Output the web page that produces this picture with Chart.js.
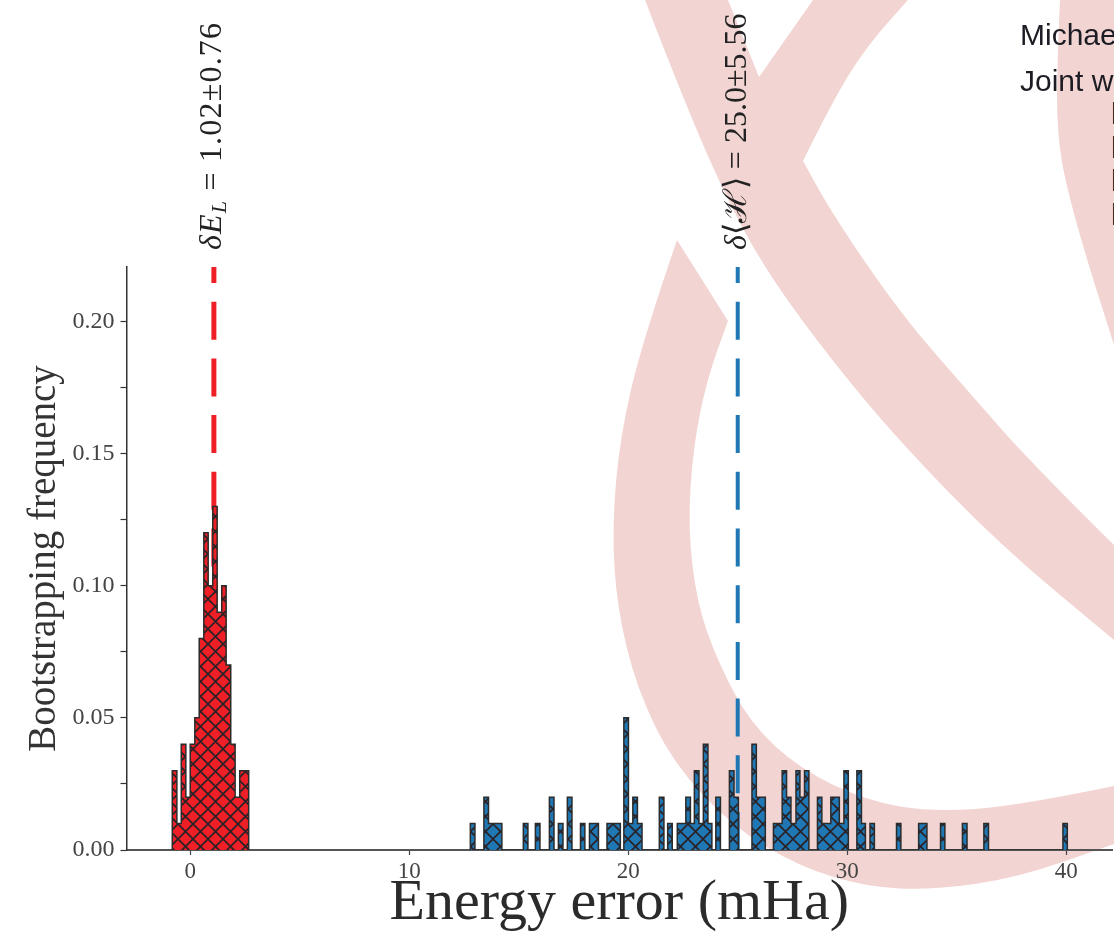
<!DOCTYPE html>
<html>
<head>
<meta charset="utf-8">
<title>Energy error</title>
<script src="https://cdn.jsdelivr.net/npm/chart.js@4"></script>
<style>
  html, body { margin: 0; padding: 0; background: #fff; }
  #page { position: relative; width: 1114px; height: 938px; overflow: hidden; }
  #plot { position: absolute; left: 0; top: 0; }
  .slide { position: absolute; font-family: "Liberation Sans", sans-serif; color: #1c1c24; white-space: nowrap; line-height: 1; }
</style>
</head>
<body>
<div id="page">
  <canvas id="plot" width="1114" height="938"></canvas>
  <div class="slide" style="left:1020px;top:20px;font-size:30px">Michael</div>
  <div class="slide" style="left:1020px;top:66px;font-size:30px">Joint w</div>
  <div class="slide" style="left:1110px;top:97px;font-size:32px;color:#4a2a1c">I</div>
  <div class="slide" style="left:1110px;top:131px;font-size:32px;color:#4a2a1c">I</div>
  <div class="slide" style="left:1110px;top:164px;font-size:32px;color:#4a2a1c">I</div>
  <div class="slide" style="left:1110px;top:198px;font-size:32px;color:#4a2a1c">I</div>
</div>
<script>
const RED = '#ee1f26';
const BLUE = '#1f77b4';
const INK = '#2b2b2b';
const PINK = '#f2d5d2';
const SERIF = '"Liberation Serif", serif';

const xTickValues = [0, 10, 20, 30, 40];
const yTickValues = [0, 0.025, 0.05, 0.075, 0.1, 0.125, 0.15, 0.175, 0.2];
const yLabelled = [0, 0.05, 0.1, 0.15, 0.2];

const redMean = 1.08;
const blueMean = 25.0;

// bin edges in mHa, one frequency per interval between two edges
const redEdges = [-0.82, -0.61, -0.41, -0.20, 0.00, 0.21, 0.41, 0.62, 0.82, 1.03, 1.23, 1.44, 1.64, 1.85, 2.05, 2.26, 2.46, 2.67];
const redFreq = [0.03, 0.01, 0.04, 0.02, 0.04, 0.05, 0.08, 0.12, 0.10, 0.13, 0.09, 0.10, 0.07, 0.04, 0.02, 0.03, 0.03];

const blueEdges = [
  12.79, 13.00, 13.41, 13.62, 14.23, 15.21, 15.42, 15.76, 15.97, 16.40,
  16.61, 16.81, 17.02, 17.22, 17.43, 17.82, 18.02, 18.23, 18.64, 19.03,
  19.64, 19.80, 20.01, 20.21, 20.42, 20.63, 21.42, 21.63, 21.80, 22.01,
  22.24, 22.63, 22.84, 23.02, 23.23, 23.43, 23.64, 23.82, 24.00, 24.21,
  24.62, 24.83, 25.03, 25.65, 25.85, 26.26, 26.63, 27.03, 27.23, 27.43,
  27.66, 27.84, 28.05, 28.25, 28.64, 28.84, 29.25, 29.64, 29.85, 30.05,
  30.44, 30.65, 30.83, 31.04, 31.24, 32.25, 32.45, 33.26, 33.64, 34.26,
  34.46, 35.26, 35.47, 36.24, 36.45, 39.85, 40.05,
];
const blueFreq = [
  0.01, 0, 0.02, 0.01, 0, 0.01, 0, 0.01, 0, 0.02,
  0, 0.01, 0, 0.02, 0, 0.01, 0, 0.01, 0, 0.01,
  0, 0.05, 0.01, 0.02, 0.01, 0, 0.02, 0, 0.01, 0,
  0.01, 0.02, 0.01, 0.03, 0.01, 0.04, 0.01, 0, 0.02, 0,
  0.03, 0.02, 0, 0.04, 0.02, 0, 0.01, 0.03, 0.02, 0.01,
  0.03, 0.02, 0.03, 0, 0.02, 0.01, 0.02, 0.01, 0.03, 0,
  0.03, 0.01, 0, 0.01, 0, 0.01, 0, 0.01, 0, 0.01,
  0, 0.01, 0, 0.01, 0, 0.01,
];

// logo behind the plot, traced in page pixels: each outline is a list of smoothed runs
const logoShapes = [
  [
    [[645, 0], [687, 109], [733, 212], [773, 281], [833, 362], [900, 442], [1000, 545], [1114, 640]],
    [[1114, 545], [1033, 465], [967, 390], [900, 313], [833, 215], [803, 161]],
    [[803, 161], [833, 100], [867, 46], [908, 0]],
    [[813, 0], [759, 77]],
    [[759, 77], [728, 0]],
  ],
  [
    [[677, 240], [643, 339], [620, 436], [612, 528], [617, 608], [637, 689], [673, 763], [733, 827], [800, 867], [867, 887], [933, 890], [1017, 878], [1114, 844]],
    [[1114, 786], [1017, 806], [933, 812], [867, 801], [800, 769], [750, 723], [717, 660], [697, 603], [688, 528], [693, 448], [707, 379], [728, 321]],
  ],
  [
    [[1060, 0], [1056, 87], [1059, 150], [1070, 200], [1087, 260], [1114, 345]],
    [[1114, 0]],
  ],
];

function smoothTo(ctx, pts) {
  ctx.lineTo(pts[0][0], pts[0][1]);
  for (let i = 1; i < pts.length - 1; i++) {
    const mx = (pts[i][0] + pts[i + 1][0]) / 2;
    const my = (pts[i][1] + pts[i + 1][1]) / 2;
    ctx.quadraticCurveTo(pts[i][0], pts[i][1], mx, my);
  }
  const last = pts[pts.length - 1];
  ctx.lineTo(last[0], last[1]);
}

const logoPlugin = {
  id: 'logo',
  beforeDraw(chart) {
    const ctx = chart.ctx;
    ctx.save();
    ctx.fillStyle = PINK;
    logoShapes.forEach((shape) => {
      ctx.beginPath();
      ctx.moveTo(shape[0][0][0], shape[0][0][1]);
      shape.forEach((run) => smoothTo(ctx, run));
      ctx.closePath();
      ctx.fill();
    });
    ctx.restore();
  },
};

function drawRuns(ctx, runs, x, y, spacing) {
  // drawn rotated, reading upwards, from the lower end of the label
  ctx.save();
  ctx.translate(x, y);
  ctx.rotate(-Math.PI / 2);
  ctx.fillStyle = '#222';
  ctx.textBaseline = 'alphabetic';
  ctx.textAlign = 'left';
  ctx.letterSpacing = spacing + 'px';
  let pos = 0;
  runs.forEach((run) => {
    ctx.font = run.font;
    ctx.fillText(run.text, pos, run.dy || 0);
    pos += ctx.measureText(run.text).width;
  });
  ctx.restore();
}

const labelPlugin = {
  id: 'meanLabels',
  afterDraw(chart) {
    const ctx = chart.ctx;
    const xs = chart.scales.x;
    const big = `32px ${SERIF}`;
    const ital = `italic 32px ${SERIF}`;
    const sub = `italic 22px ${SERIF}`;
    drawRuns(ctx, [
      { text: 'δE', font: ital },
      { text: 'L', font: sub, dy: 5 },
      { text: ' = 1.02±0.76', font: big },
    ], xs.getPixelForValue(redMean) + 7, 250, 1.2);
    drawRuns(ctx, [
      { text: 'δ', font: ital },
      { text: '⟨', font: big },
      { text: 'ℋ', font: big },
      { text: '⟩', font: big },
      { text: ' = 25.0±5.56', font: big },
    ], xs.getPixelForValue(blueMean) + 8, 250, 0);
  },
};

function stepPoints(edges, freq) {
  const points = [{ x: edges[0], y: 0 }];
  freq.forEach((f, i) => points.push({ x: edges[i], y: f }));
  points.push({ x: edges[edges.length - 1], y: freq[freq.length - 1] });
  points.push({ x: edges[edges.length - 1], y: 0 });
  return points;
}

function hatch(color) {
  const size = 15;
  const tile = document.createElement('canvas');
  tile.width = size;
  tile.height = size;
  const c = tile.getContext('2d');
  c.fillStyle = color;
  c.fillRect(0, 0, size, size);
  c.strokeStyle = '#2a2226';
  c.lineWidth = 1.7;
  c.beginPath();
  for (let k = -1; k <= 1; k++) {
    c.moveTo(k * size, 0);
    c.lineTo(k * size + size, size);
    c.moveTo(k * size + size, 0);
    c.lineTo(k * size, size);
  }
  c.stroke();
  const pattern = c.createPattern(tile, 'repeat');
  pattern.setTransform(new DOMMatrix().translate(13, 14));
  return pattern;
}

const Y_TOP = 0.2206;

function meanLine(x, color, width) {
  return {
    data: [{ x: x, y: 0 }, { x: x, y: Y_TOP }],
    borderColor: color,
    borderWidth: width,
    borderDash: [38, 18.7],
    pointRadius: 0,
    fill: false,
    order: 2,
  };
}

function histogram(edges, freq, color) {
  return {
    data: stepPoints(edges, freq),
    stepped: true,
    borderColor: INK,
    borderWidth: 1.5,
    borderJoinStyle: 'miter',
    backgroundColor: hatch(color),
    fill: 'origin',
    pointRadius: 0,
    order: 1,
  };
}

new Chart(document.getElementById('plot'), {
  type: 'line',
  data: {
    datasets: [
      meanLine(redMean, RED, 5),
      meanLine(blueMean, BLUE, 4),
      histogram(redEdges, redFreq, RED),
      histogram(blueEdges, blueFreq, BLUE),
    ],
  },
  options: {
    responsive: false,
    animation: false,
    layout: { padding: { top: 267, right: 2, left: 0, bottom: 0 } },
    plugins: { legend: { display: false }, tooltip: { enabled: false } },
    scales: {
      x: {
        type: 'linear',
        min: -2.91,
        max: 42.09,
        afterFit: (scale) => { scale.height = 88; },
        afterBuildTicks: (scale) => { scale.ticks = xTickValues.map((value) => ({ value })); },
        border: { color: '#555', width: 2 },
        grid: { drawOnChartArea: false, tickLength: 5, tickColor: '#444', tickWidth: 1.2 },
        ticks: { autoSkip: false, maxRotation: 0, color: '#444', font: { family: SERIF, size: 23 }, padding: 3, callback: (v) => String(v) },
        title: { display: true, text: 'Energy error (mHa)', color: '#2b2b2b', font: { family: SERIF, size: 58 }, padding: { top: 0, bottom: -1 } },
      },
      y: {
        min: 0,
        max: Y_TOP,
        afterFit: (scale) => { scale.width = 126.5; },
        afterBuildTicks: (scale) => { scale.ticks = yTickValues.map((value) => ({ value })); },
        border: { color: '#333', width: 1.5 },
        grid: { drawOnChartArea: false, tickLength: 6, tickColor: '#333', tickWidth: 1.2 },
        ticks: { autoSkip: false, color: '#444', font: { family: SERIF, size: 24 }, padding: 6, callback: (v) => (yLabelled.includes(v) ? v.toFixed(2) : '') },
        title: { display: true, text: 'Bootstrapping frequency', color: '#333', font: { family: SERIF, size: 39 }, padding: { top: 21, bottom: 0 } },
      },
    },
  },
  plugins: [logoPlugin, labelPlugin],
});
</script>
</body>
</html>
